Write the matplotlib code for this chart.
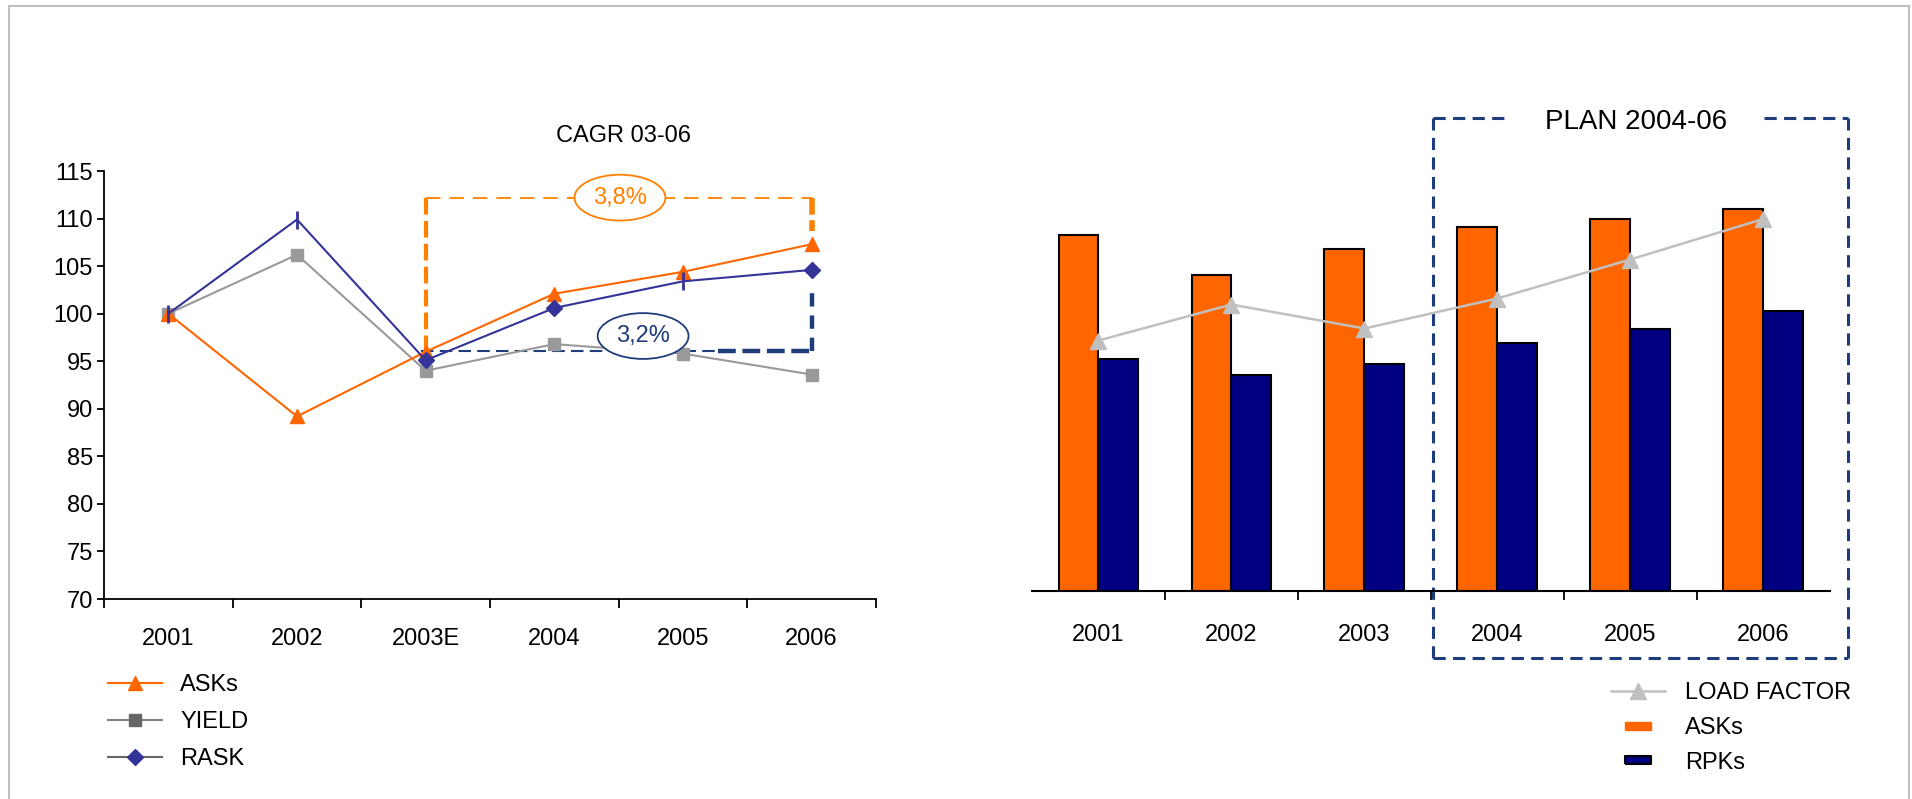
import matplotlib
matplotlib.use('Agg')
import matplotlib.pyplot as plt
from matplotlib.lines import Line2D

plt.rcParams['font.family'] = ['Liberation Sans', 'DejaVu Sans']
plt.rcParams['font.size'] = 17

# datos grafico izquierdo (indice 2001 = 100)
years_left = ['2001', '2002', '2003E', '2004', '2005', '2006']
asks_idx = [100, 89.2, 96.0, 102.1, 104.4, 107.3]
yield_idx = [100, 106.2, 94.0, 96.8, 95.8, 93.6]
rask_idx = [100, 109.9, 95.1, 100.6, 103.4, 104.6]
cagr_asks = '3,8%'
cagr_rask = '3,2%'

# datos grafico derecho
years_right = ['2001', '2002', '2003', '2004', '2005', '2006']
asks = [35.6, 31.6, 34.2, 36.4, 37.2, 38.2]
rpks = [23.2, 21.6, 22.7, 24.8, 26.2, 28.0]
load_factor = [65.2, 67.6, 66.0, 68.0, 70.6, 73.3]

ORANGE = '#FF6600'
ORANGE2 = '#FF8000'
GRAY = '#999999'
BLUE = '#333399'
NAVY = '#000080'
DKBLUE = '#1F3D7A'
LF_GRAY = '#C0C0C0'

W, H = 1912, 799
fig = plt.figure(figsize=(W / 100, H / 100), dpi=100)

# marco gris
fig.add_artist(Line2D([9 / W, 9 / W], [0, 1 - 6 / H], color='#BFBFBF', lw=1.5))
fig.add_artist(Line2D([9 / W, 1909 / W], [1 - 6 / H, 1 - 6 / H], color='#BFBFBF', lw=1.5))
fig.add_artist(Line2D([1909 / W, 1909 / W], [0, 1 - 6 / H], color='#BFBFBF', lw=1.5))

# ---------------- grafico izquierdo ----------------
ax = fig.add_axes([104 / W, 1 - 599 / H, 772 / W, 428 / H])
x = list(range(len(years_left)))

ax.plot(x, yield_idx, color=GRAY, lw=1.5, marker='s', ms=9, zorder=3)
ax.plot(x, asks_idx, color=ORANGE, lw=1.5, marker='^', ms=10, zorder=4)
ax.plot(x, rask_idx, color=BLUE, lw=1.5, marker='D', ms=8.5, markevery=[2, 3, 5], zorder=5)
idx_bar = [0, 1, 4]
ax.plot(idx_bar, [rask_idx[i] for i in idx_bar], ls='none', color=BLUE, marker='|',
        ms=13, mew=2, zorder=5)

# lineas CAGR
top_o = 112.2
ax.plot([2, 5], [top_o, top_o], color=ORANGE2, lw=1.3, dashes=(8, 5), zorder=2)
ax.plot([2, 2], [top_o, 95.9], color=ORANGE2, lw=3, dashes=(4, 1.5), zorder=2)
ax.plot([5, 5], [top_o, 108.7], color=ORANGE2, lw=4, dashes=(3, 1), zorder=2)
base_b = 96.1
ax.plot([1.96, 4.27], [base_b, base_b], color=DKBLUE, lw=1.5, dashes=(6, 3), zorder=2)
ax.plot([4.27, 5], [base_b, base_b], color=DKBLUE, lw=3.2, dashes=(4, 1.5), zorder=2)
ax.plot([5, 5], [base_b, 103.0], color=DKBLUE, lw=3.2, dashes=(3, 2), zorder=2)

ax.text(3.51, top_o, cagr_asks, color=ORANGE2, fontsize=17, ha='center', va='center', zorder=6,
        bbox=dict(boxstyle='ellipse,pad=0.22', fc='white', ec=ORANGE2, lw=1.3))
ax.text(3.69, 97.65, cagr_rask, color=DKBLUE, fontsize=17, ha='center', va='center', zorder=6,
        bbox=dict(boxstyle='ellipse,pad=0.22', fc='white', ec=DKBLUE, lw=1.3))

ax.set_xlim(-0.5, 5.5)
ax.set_ylim(70, 115)
ax.set_yticks(range(70, 116, 5))
ax.set_xticks([i - 0.5 for i in range(7)])
ax.set_xticklabels([])
ax.set_xticks(x, minor=True)
ax.set_xticklabels(years_left, minor=True)
ax.tick_params(axis='x', which='major', direction='out', length=6.5, width=1.3)
ax.tick_params(axis='x', which='minor', length=0, pad=21, labelsize=17)
ax.tick_params(axis='y', direction='out', length=5, width=1.3, pad=3, labelsize=17)
for s in ['top', 'right']:
    ax.spines[s].set_visible(False)
for s in ['left', 'bottom']:
    ax.spines[s].set_linewidth(1.3)

fig.text(623 / W, 1 - 136 / H, 'CAGR 03-06', ha='center', va='center', fontsize=17)

h_left = [
    Line2D([], [], color=ORANGE, lw=1.5, marker='^', ms=10, mfc=ORANGE, mec=ORANGE),
    Line2D([], [], color='#808080', lw=1.5, marker='s', ms=8, mfc='#666666', mec='#666666'),
    Line2D([], [], color='#666666', lw=1.5, marker='D', ms=8, mfc=BLUE, mec=BLUE),
]
fig.legend(h_left, ['ASKs', 'YIELD', 'RASK'], loc='center left',
           bbox_to_anchor=(108 / W, 1 - 722 / H), frameon=False, borderpad=0,
           borderaxespad=0, handlelength=2.3, handletextpad=0.75, labelspacing=0.64,
           fontsize=17)

# ---------------- grafico derecho ----------------
ax2 = fig.add_axes([1032 / W, 1 - 591 / H, 797.6 / W, 480 / H])
xr = list(range(len(years_right)))
bw = 0.3
ax2.bar([i - bw / 2 for i in xr], asks, width=bw, color=ORANGE, edgecolor='black', lw=1.5, zorder=2)
ax2.bar([i + bw / 2 for i in xr], rpks, width=bw, color=NAVY, edgecolor='black', lw=1.5, zorder=2)
ax2.set_xlim(-0.5, 5.5)
ax2.set_ylim(0, 48)
ax2.set_yticks([])
ax2.set_xticks([i + 0.5 for i in range(5)])
ax2.set_xticklabels([])
ax2.set_xticks(xr, minor=True)
ax2.set_xticklabels(years_right, minor=True)
ax2.tick_params(axis='x', which='major', direction='out', length=6.5, width=1.3)
ax2.tick_params(axis='x', which='minor', length=0, pad=24, labelsize=17)
for s in ['top', 'right', 'left']:
    ax2.spines[s].set_visible(False)
ax2.spines['bottom'].set_linewidth(1.5)
ax2.patch.set_alpha(0)

ax3 = ax2.twinx()
ax3.plot(xr, load_factor, color=LF_GRAY, lw=1.8, marker='^', ms=12, zorder=3)
ax3.set_ylim(48.5, 80.5)
ax3.set_yticks([])
for s in ax3.spines.values():
    s.set_visible(False)

# recuadro PLAN 2004-06
box_kw = dict(color=DKBLUE, lw=2.2, dashes=(4, 2.4), clip_on=False, zorder=1)
bx0, bx1, by0, by1 = 2.52, 5.64, -6.7, 47.3
ax2.plot([bx0, bx0], [by0, by1], **box_kw)
ax2.plot([bx1, bx1], [by0, by1], **box_kw)
ax2.plot([bx0, bx1], [by0, by0], **box_kw)
ax2.plot([bx0, 3.08], [by1, by1], **box_kw)
ax2.plot([5.01, bx1], [by1, by1], **box_kw)
fig.text(1636 / W, 1 - 122 / H, 'PLAN 2004-06', ha='center', va='center', fontsize=20)

verts = [(-1.7, -0.5), (1.7, -0.5), (1.7, 0.5), (-1.7, 0.5), (-1.7, -0.5)]
h_right = [
    Line2D([], [], color=LF_GRAY, lw=1.8, marker='^', ms=12),
    Line2D([], [], ls='none', marker=verts, ms=19.4, mfc=ORANGE, mec=ORANGE),
    Line2D([], [], ls='none', marker=verts, ms=19.4, mfc=NAVY, mec='black', mew=1.5),
]
fig.legend(h_right, ['LOAD FACTOR', 'ASKs', 'RPKs'], loc='center left',
           bbox_to_anchor=(1611 / W, 1 - 728 / H), frameon=False, borderpad=0,
           borderaxespad=0, handlelength=2.3, handletextpad=0.85, labelspacing=0.54,
           fontsize=17)

fig.savefig('out.png', dpi=100)
